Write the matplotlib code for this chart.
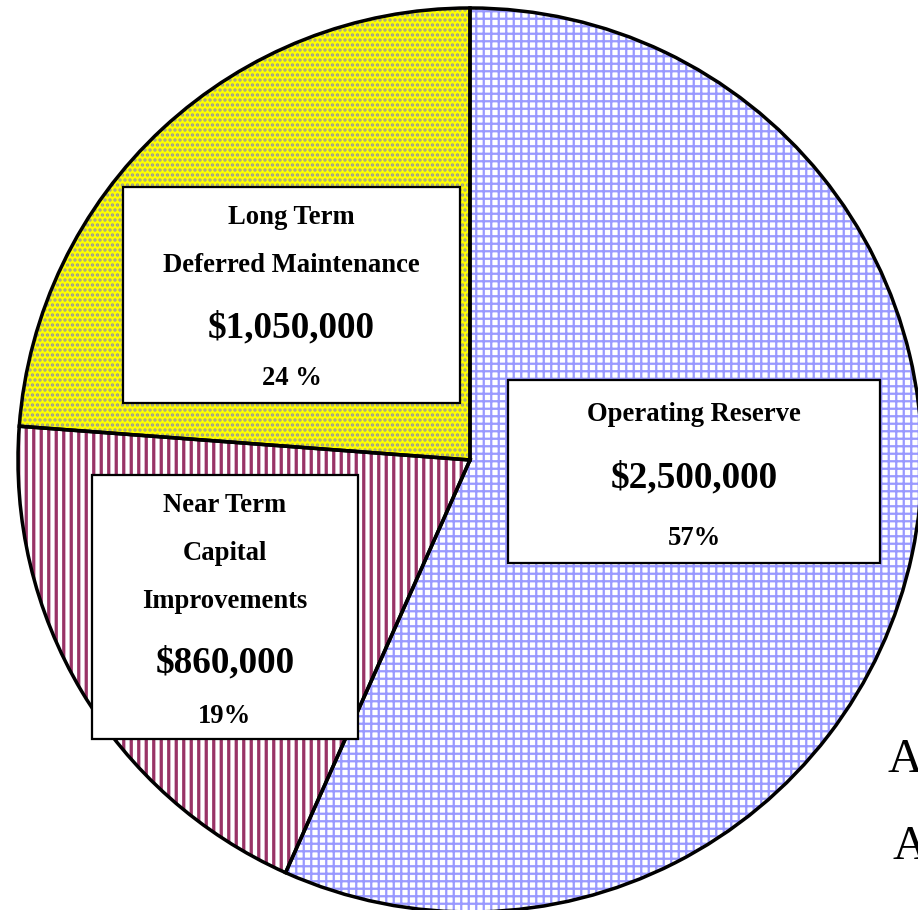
import matplotlib.pyplot as plt
from matplotlib.patches import Rectangle

# reserve fund split
categories = ["Operating Reserve", "Near Term Capital Improvements",
              "Long Term Deferred Maintenance"]
name_lines = [["Operating Reserve"],
              ["Near Term", "Capital", "Improvements"],
              ["Long Term", "Deferred Maintenance"]]
amounts = [2500000, 860000, 1050000]
pct_labels = ["57%", "19%", "24 %"]

face_colors = ["white", "white", "#ffff00"]
hatch_colors = ["#9999ff", "#993366", "#999999"]
hatches = ["++", "||", "..."]
hatch_widths = [1.8, 2.6, 1.8]

W, H, DPI = 919, 910, 90
plt.rcParams['font.family'] = ['Liberation Serif', 'DejaVu Serif']
plt.rcParams['hatch.linewidth'] = 1.9

fig = plt.figure(figsize=(W / DPI, H / DPI), dpi=DPI)
ax = fig.add_axes([0, 0, 1, 1])

wedges, _ = ax.pie(amounts, startangle=90, counterclock=False, radius=1,
                   colors=face_colors)
for w, hc, hw, hp in zip(wedges, hatch_colors, hatch_widths, hatches):
    w.set_edgecolor(hc)
    w.set_linewidth(0)
    w.set_hatch(hp)
    if hasattr(w, 'set_hatch_linewidth'):
        w.set_hatch_linewidth(hw)

# black outlines on top
ax.pie(amounts, startangle=90, counterclock=False, radius=1,
       wedgeprops={'fill': False, 'edgecolor': 'black', 'linewidth': 2.8})

# pie centre (470, 460) px, radius 452 px; pie() resets limits so set after
cx, cy, r = 470, 460, 452
ax.set_aspect('auto')
ax.set_xlim(-cx / r, (W - cx) / r)
ax.set_ylim(-(H - cy) / r, cy / r)
ax.axis('off')


def fx(x):
    return x / W


def fy(y):
    return 1 - y / H


# label boxes: (left, top, right, bottom) px and baselines of each text line
boxes = [(508, 380, 880, 563), (92, 475, 358, 739), (123, 187, 460, 403)]
baselines = [[421, 487, 545], [512, 560, 608, 672, 723], [224, 272, 337, 385]]

for i in range(len(categories)):
    l, t, rr, b = boxes[i]
    fig.add_artist(Rectangle((fx(l), fy(b)), fx(rr - l), (b - t) / H,
                             transform=fig.transFigure, facecolor='white',
                             edgecolor='black', linewidth=1.8, zorder=5))
    lines = [(s, 21.3) for s in name_lines[i]]
    lines.append((f"${amounts[i]:,}", 29.8))
    lines.append((pct_labels[i], 21.3))
    xc = (l + rr) / 2
    for (s, size), yb in zip(lines, baselines[i]):
        fig.text(fx(xc), fy(yb), s, ha='center', va='baseline', fontsize=size,
                 fontweight='bold', zorder=6)

# text cut off at the right edge, as in the original
fig.text(fx(888), fy(772), "A", ha='left', va='baseline', fontsize=38.7)
fig.text(fx(893), fy(859), "A", ha='left', va='baseline', fontsize=38.7)

fig.savefig("out.png", dpi=DPI)
